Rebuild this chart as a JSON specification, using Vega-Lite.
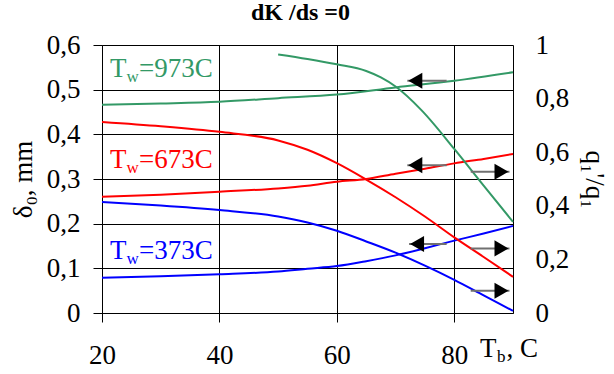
{
  "$schema": "https://vega.github.io/schema/vega-lite/v6.json",
  "width": 411,
  "height": 268,
  "autosize": {"type": "none"},
  "padding": {"left": 102, "top": 45, "right": 101, "bottom": 61},
  "background": "white",
  "title": {"text": "dK /ds =0", "font": "Liberation Serif", "fontSize": 24, "fontWeight": "bold", "color": "black", "anchor": "middle", "offset": 6, "dx": -7},
  "config": {
    "view": {"stroke": null},
    "font": "Liberation Serif",
    "axis": {
      "labelFont": "Liberation Serif", "labelFontSize": 27, "labelColor": "black",
      "titleFont": "Liberation Serif", "titleFontSize": 27, "titleColor": "black", "titleFontWeight": "normal",
      "domainColor": "black", "tickColor": "black", "gridColor": "black", "gridOpacity": 1, "gridWidth": 1,
      "domainWidth": 1, "tickWidth": 1, "labelFlush": false, "labelOverlap": false, "labelBound": false
    }
  },
  "datasets": {
    "left": [
      {"series": "973", "x": 20, "y": 0.466}, {"series": "973", "x": 30, "y": 0.469}, {"series": "973", "x": 40, "y": 0.473}, {"series": "973", "x": 50, "y": 0.481}, {"series": "973", "x": 60, "y": 0.489}, {"series": "973", "x": 70, "y": 0.505}, {"series": "973", "x": 80, "y": 0.520}, {"series": "973", "x": 90, "y": 0.539},
      {"series": "673", "x": 20, "y": 0.260}, {"series": "673", "x": 30, "y": 0.265}, {"series": "673", "x": 40, "y": 0.2716}, {"series": "673", "x": 50, "y": 0.279}, {"series": "673", "x": 55, "y": 0.285}, {"series": "673", "x": 60, "y": 0.294}, {"series": "673", "x": 65, "y": 0.300}, {"series": "673", "x": 70, "y": 0.312}, {"series": "673", "x": 75, "y": 0.323}, {"series": "673", "x": 80, "y": 0.335}, {"series": "673", "x": 85, "y": 0.345}, {"series": "673", "x": 90, "y": 0.356},
      {"series": "373", "x": 20, "y": 0.079}, {"series": "373", "x": 30, "y": 0.082}, {"series": "373", "x": 40, "y": 0.0866}, {"series": "373", "x": 50, "y": 0.093}, {"series": "373", "x": 55, "y": 0.099}, {"series": "373", "x": 60, "y": 0.105}, {"series": "373", "x": 65, "y": 0.116}, {"series": "373", "x": 70, "y": 0.129}, {"series": "373", "x": 75, "y": 0.145}, {"series": "373", "x": 80, "y": 0.162}, {"series": "373", "x": 85, "y": 0.178}, {"series": "373", "x": 90, "y": 0.195}
    ],
    "right": [
      {"series": "973", "x": 50, "y": 0.965}, {"series": "973", "x": 55, "y": 0.948}, {"series": "973", "x": 60, "y": 0.928}, {"series": "973", "x": 65, "y": 0.903}, {"series": "973", "x": 67.5, "y": 0.879}, {"series": "973", "x": 70, "y": 0.845}, {"series": "973", "x": 74.4, "y": 0.757}, {"series": "973", "x": 80, "y": 0.612}, {"series": "973", "x": 85, "y": 0.475}, {"series": "973", "x": 90, "y": 0.34},
      {"series": "673", "x": 20, "y": 0.713}, {"series": "673", "x": 30, "y": 0.697}, {"series": "673", "x": 40, "y": 0.676}, {"series": "673", "x": 50, "y": 0.644}, {"series": "673", "x": 55, "y": 0.609}, {"series": "673", "x": 60, "y": 0.559}, {"series": "673", "x": 65, "y": 0.498}, {"series": "673", "x": 70, "y": 0.432}, {"series": "673", "x": 75, "y": 0.360}, {"series": "673", "x": 80, "y": 0.282}, {"series": "673", "x": 85, "y": 0.209}, {"series": "673", "x": 90, "y": 0.135},
      {"series": "373", "x": 20, "y": 0.414}, {"series": "373", "x": 30, "y": 0.401}, {"series": "373", "x": 40, "y": 0.384}, {"series": "373", "x": 50, "y": 0.360}, {"series": "373", "x": 55, "y": 0.338}, {"series": "373", "x": 60, "y": 0.307}, {"series": "373", "x": 65, "y": 0.267}, {"series": "373", "x": 70, "y": 0.225}, {"series": "373", "x": 75, "y": 0.177}, {"series": "373", "x": 80, "y": 0.124}, {"series": "373", "x": 85, "y": 0.066}, {"series": "373", "x": 90, "y": 0.008}
    ],
    "leftArrows": [
      {"series": "973", "x": 78.7, "tip": 72.0, "y": 0.520},
      {"series": "673", "x": 78.7, "tip": 72.0, "y": 0.331},
      {"series": "373", "x": 78.7, "tip": 72.3, "y": 0.1545}
    ],
    "rightArrows": [
      {"series": "673", "x": 82.8, "tip": 89.4, "y": 0.527},
      {"series": "373", "x": 82.8, "tip": 89.4, "y": 0.241},
      {"series": "373", "x": 82.8, "tip": 89.4, "y": 0.083}
    ],
    "labels": [
      {"series": "973", "x": 21.36, "y": 0.5276, "T": "T", "sub": "w", "rest": "=973C"},
      {"series": "673", "x": 21.36, "y": 0.3246, "T": "T", "sub": "w", "rest": "=673C"},
      {"series": "373", "x": 21.36, "y": 0.120, "T": "T", "sub": "w", "rest": "=373C"}
    ],
    "xtitle": [
      {"x": 84.38, "y": -0.0985, "T": "T", "sub": "b", "rest": ", C"}
    ],
    "rticks": [
      {"y": 0}, {"y": 0.2}, {"y": 0.4}, {"y": 0.6}, {"y": 0.8}, {"y": 1}
    ]
  },
  "encoding": {
    "x": {"field": "x", "type": "quantitative", "scale": {"domain": [20, 90], "nice": false, "zero": false},
      "axis": {"values": [20, 40, 60, 80], "grid": true, "tickSize": 9, "labelPadding": 20, "title": null, "labelExpr": "format(datum.value, 'd')"}}
  },
  "layer": [
    {
      "encoding": {
        "y": {"field": "y", "type": "quantitative", "scale": {"domain": [0, 0.6], "nice": false, "zero": false},
          "axis": {"orient": "left", "values": [0, 0.1, 0.2, 0.3, 0.4, 0.5, 0.6], "grid": true, "tickSize": 9, "labelPadding": 13,
            "labelExpr": "datum.value == 0 ? '0' : replace(format(datum.value, '.1f'), '.', ',')",
            "title": "δ₀, mm", "titleAngle": -90, "titleX": -71, "titleY": 134, "titleBaseline": "alphabetic", "titleAlign": "center"}}
      },
      "layer": [
        {
          "data": {"name": "left"},
          "mark": {"type": "line", "strokeWidth": 2, "interpolate": "monotone"},
          "encoding": {
            "color": {"field": "series", "type": "nominal", "scale": {"domain": ["973", "673", "373", "axis"], "range": ["#339966", "#ff0000", "#0000ff", "#000000"]}, "legend": null}
          }
        },
        {
          "data": {"name": "leftArrows"},
          "mark": {"type": "rule", "color": "#707070", "strokeWidth": 2},
          "encoding": {
            "x2": {"field": "tip"}
          }
        },
        {
          "data": {"name": "leftArrows"},
          "mark": {"type": "point", "shape": "triangle-left", "size": 260, "filled": true, "fill": "black", "fillOpacity": 1, "opacity": 1, "strokeWidth": 0, "xOffset": 8},
          "encoding": {
            "x": {"field": "tip", "type": "quantitative", "scale": {"domain": [20, 90], "nice": false, "zero": false},
              "axis": {"values": [20, 40, 60, 80], "grid": true, "tickSize": 9, "labelPadding": 20, "title": null, "labelExpr": "format(datum.value, 'd')"}}
          }
        },
        {
          "data": {"name": "labels"},
          "mark": {"type": "text", "align": "left", "baseline": "alphabetic", "fontSize": 27, "font": "Liberation Serif"},
          "encoding": {
            "text": {"field": "T"},
            "color": {"field": "series", "type": "nominal", "legend": null}
          }
        },
        {
          "data": {"name": "labels"},
          "mark": {"type": "text", "align": "left", "baseline": "alphabetic", "fontSize": 17, "font": "Liberation Serif", "dx": 16.5, "dy": 5},
          "encoding": {
            "text": {"field": "sub"},
            "color": {"field": "series", "type": "nominal", "legend": null}
          }
        },
        {
          "data": {"name": "labels"},
          "mark": {"type": "text", "align": "left", "baseline": "alphabetic", "fontSize": 27, "font": "Liberation Serif", "dx": 29},
          "encoding": {
            "text": {"field": "rest"},
            "color": {"field": "series", "type": "nominal", "legend": null}
          }
        },
        {
          "data": {"name": "xtitle"},
          "mark": {"type": "text", "align": "left", "baseline": "alphabetic", "fontSize": 27, "font": "Liberation Serif", "color": "black"},
          "encoding": {
            "text": {"field": "T"}
          }
        },
        {
          "data": {"name": "xtitle"},
          "mark": {"type": "text", "align": "left", "baseline": "alphabetic", "fontSize": 17, "font": "Liberation Serif", "color": "black", "dx": 17, "dy": 5},
          "encoding": {
            "text": {"field": "sub"}
          }
        },
        {
          "data": {"name": "xtitle"},
          "mark": {"type": "text", "align": "left", "baseline": "alphabetic", "fontSize": 27, "font": "Liberation Serif", "color": "black", "dx": 26.5},
          "encoding": {
            "text": {"field": "rest"}
          }
        }
      ]
    },
    {
      "encoding": {
        "y": {"field": "y", "type": "quantitative", "scale": {"domain": [0, 1], "nice": false, "zero": false},
          "axis": {"orient": "right", "values": [0, 0.2, 0.4, 0.6, 0.8, 1], "grid": false, "ticks": false, "labelPadding": 22,
            "labelExpr": "datum.value % 1 == 0 ? format(datum.value, 'd') : replace(format(datum.value, '.1f'), '.', ',')",
            "title": "q₁'/q₁", "titleAngle": 90, "titleX": 72, "titleY": 134, "titleBaseline": "alphabetic", "titleAlign": "center"}}
      },
      "layer": [
        {
          "data": {"name": "right"},
          "mark": {"type": "line", "strokeWidth": 2, "interpolate": "monotone"},
          "encoding": {
            "color": {"field": "series", "type": "nominal", "legend": null}
          }
        },
        {
          "data": {"name": "rightArrows"},
          "mark": {"type": "rule", "color": "#707070", "strokeWidth": 2},
          "encoding": {
            "x2": {"field": "tip"}
          }
        },
        {
          "data": {"name": "rightArrows"},
          "mark": {"type": "point", "shape": "triangle-right", "size": 260, "filled": true, "fill": "black", "fillOpacity": 1, "opacity": 1, "strokeWidth": 0, "xOffset": -8},
          "encoding": {
            "x": {"field": "tip", "type": "quantitative", "scale": {"domain": [20, 90], "nice": false, "zero": false},
              "axis": {"values": [20, 40, 60, 80], "grid": true, "tickSize": 9, "labelPadding": 20, "title": null, "labelExpr": "format(datum.value, 'd')"}}
          }
        },
        {
          "data": {"name": "rticks"},
          "mark": {"type": "rule", "color": "black", "strokeWidth": 1, "xOffset": -8, "x2Offset": 9},
          "encoding": {
            "x": {"datum": 90, "type": "quantitative"},
            "x2": {"datum": 90}
          }
        }
      ]
    }
  ],
  "resolve": {"scale": {"y": "independent"}}
}
